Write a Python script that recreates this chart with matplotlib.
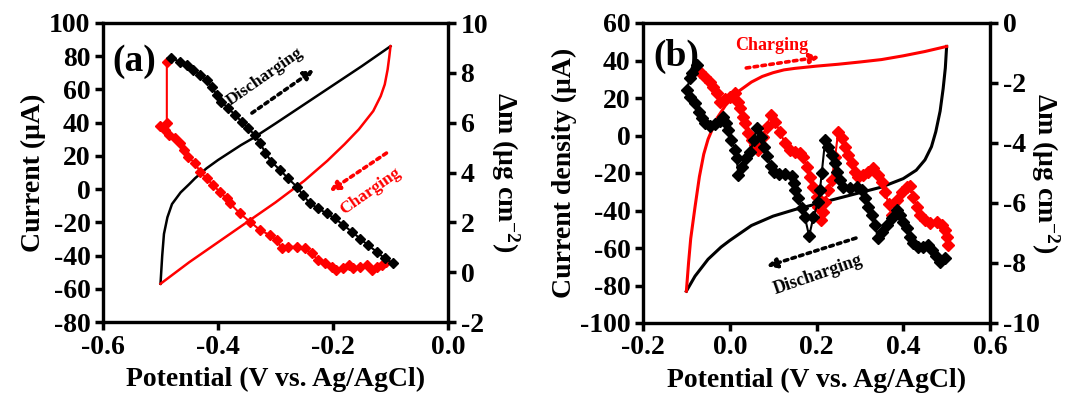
import numpy as np
import matplotlib
matplotlib.use('Agg')
from matplotlib import pyplot as plt
from matplotlib.ticker import MultipleLocator, FormatStrFormatter

plt.rcParams['font.family'] = ['Liberation Serif', 'DejaVu Serif']
plt.rcParams['font.weight'] = 'bold'
plt.rcParams['axes.unicode_minus'] = False
plt.rcParams['mathtext.fontset'] = 'custom'
plt.rcParams['mathtext.rm'] = 'Liberation Serif:bold'
plt.rcParams['mathtext.bf'] = 'Liberation Serif:bold'
plt.rcParams['mathtext.it'] = 'Liberation Serif:bold:italic'

# ---- panel (a) : CV (left axis) ----
a_cv_black_x = [-0.5, -0.497, -0.494, -0.488, -0.48, -0.465, -0.45, -0.44, -0.42, -0.40,
                -0.38, -0.36, -0.34, -0.30, -0.25, -0.20, -0.15, -0.10]
a_cv_black_i = [-57, -40, -27, -17, -9, -2, 3, 6.5, 12.5, 17.5,
                22, 26.5, 30.5, 39.5, 51, 62.5, 74, 86]
a_cv_red_x = [-0.10, -0.102, -0.105, -0.11, -0.117, -0.13, -0.155, -0.18, -0.21, -0.25,
              -0.30, -0.35, -0.40, -0.45, -0.5]
a_cv_red_i = [86, 80, 72, 63, 56, 47, 36, 27, 17, 5, -8, -20, -32, -44, -57]

# ---- panel (a) : mass change (right axis) ----
a_m_black_x = [-0.481, -0.466, -0.454, -0.443, -0.431, -0.420, -0.411, -0.402, -0.394, -0.382,
               -0.370, -0.359, -0.347, -0.336, -0.327, -0.318, -0.307, -0.292, -0.278, -0.263,
               -0.252, -0.240, -0.226, -0.211, -0.197, -0.182, -0.167, -0.153, -0.139, -0.124,
               -0.110, -0.095]
a_m_black = [8.58, 8.45, 8.31, 8.11, 7.91, 7.71, 7.44, 7.11, 6.84, 6.57,
             6.31, 6.04, 5.77, 5.5, 5.2, 4.8, 4.43, 4.1, 3.76, 3.43,
             3.09, 2.76, 2.56, 2.36, 2.16, 1.89, 1.62, 1.35, 1.08, 0.82,
             0.55, 0.35]
a_m_red_x = [-0.489, -0.489, -0.501, -0.492, -0.486, -0.475, -0.466, -0.460, -0.452, -0.440,
             -0.431, -0.420, -0.408, -0.397, -0.385, -0.379, -0.362, -0.344, -0.327, -0.310,
             -0.298, -0.289, -0.278, -0.263, -0.249, -0.237, -0.226, -0.214, -0.202, -0.194,
             -0.182, -0.173, -0.165, -0.153, -0.141, -0.133, -0.124, -0.115, -0.107]
a_m_red = [8.45, 5.97, 5.86, 5.7, 5.5, 5.37, 5.17, 4.9, 4.63, 4.37,
           4.03, 3.76, 3.49, 3.22, 2.96, 2.76, 2.36, 2.02, 1.69, 1.49,
           1.29, 0.95, 1.02, 1.02, 0.95, 0.75, 0.48, 0.35, 0.21, 0.08,
           0.15, 0.28, 0.15, 0.21, 0.28, 0.08, 0.21, 0.28, 0.41]

# ---- panel (b) : CV (left axis) ----
b_cv_red_x = [-0.1, -0.095, -0.09, -0.08, -0.07, -0.06, -0.05, -0.03, -0.01, 0.02, 0.05,
              0.075, 0.1, 0.125, 0.15, 0.2, 0.25, 0.3, 0.35, 0.4, 0.45, 0.5]
b_cv_red_i = [-83, -68, -55, -38, -22, -10, -2, 9, 16, 23.5, 28.5,
              31.5, 33.5, 35, 35.8, 37, 38, 39.2, 40.5, 42.5, 44.8, 47.5]
b_cv_black_x = [-0.1, -0.08, -0.05, -0.02, 0.0, 0.05, 0.1, 0.15, 0.2, 0.25, 0.3, 0.35,
                0.4, 0.43, 0.45, 0.465, 0.475, 0.485, 0.492, 0.497, 0.5]
b_cv_black_i = [-83, -75, -66, -59.5, -56, -48, -43, -39.5, -36.5, -33.5, -30.5, -27.5,
                -23, -18.5, -13, -6, 2, 13, 25, 36, 47.5]

# ---- panel (b) : mass change (right axis) ----
b_m_black_x = [-0.075, -0.088, -0.092, -0.099, -0.092, -0.080, -0.072, -0.065, -0.057, -0.046,
               -0.034, -0.022, -0.015, -0.009, -0.003, 0.004, 0.012, 0.016, 0.020, 0.028,
               0.037, 0.047, 0.056, 0.062, 0.071, 0.079, 0.087, 0.094, 0.101, 0.114,
               0.127, 0.143, 0.147, 0.150, 0.158, 0.166, 0.173, 0.183, 0.193, 0.204,
               0.208, 0.212, 0.220, 0.227, 0.235, 0.243, 0.248, 0.254, 0.262, 0.277,
               0.293, 0.304, 0.312, 0.319, 0.327, 0.335, 0.341, 0.350, 0.362, 0.373,
               0.385, 0.393, 0.400, 0.408, 0.416, 0.423, 0.435, 0.446, 0.458, 0.466,
               0.475, 0.485, 0.496]
b_m_black = [-1.40, -1.675, -1.84, -2.23, -2.46, -2.675, -2.96, -3.175, -3.34, -3.43,
             -3.37, -3.26, -3.14, -3.34, -3.57, -3.90, -4.23, -4.51, -5.07, -4.79,
             -4.51, -4.29, -3.90, -3.51, -3.79, -4.125, -4.44, -4.75, -4.97, -5.03,
             -5.03, -5.10, -5.34, -5.57, -5.84, -6.175, -6.46, -7.10, -6.46, -5.96,
             -5.57, -5.01, -3.90, -4.125, -4.40, -4.675, -4.96, -5.23, -5.475, -5.51,
             -5.475, -5.57, -5.84, -6.125, -6.40, -6.73, -7.16, -6.96, -6.73, -6.51,
             -6.23, -6.40, -6.625, -6.84, -7.125, -7.34, -7.46, -7.46, -7.40, -7.57,
             -7.77, -7.96, -7.84]
b_m_red_x = [-0.069, -0.057, -0.046, -0.038, -0.030, -0.022, -0.011, 0.001, 0.012, 0.020,
             0.024, 0.031, 0.035, 0.043, 0.051, 0.058, 0.066, 0.077, 0.085, 0.094,
             0.104, 0.116, 0.127, 0.139, 0.150, 0.162, 0.170, 0.177, 0.185, 0.193,
             0.200, 0.204, 0.210, 0.216, 0.220, 0.227, 0.235, 0.243, 0.250, 0.258,
             0.266, 0.273, 0.281, 0.289, 0.296, 0.308, 0.319, 0.331, 0.342, 0.350,
             0.358, 0.366, 0.373, 0.385, 0.396, 0.408, 0.416, 0.423, 0.431, 0.439,
             0.450, 0.462, 0.477, 0.489, 0.496, 0.502, 0.504]
b_m_red = [-1.625, -1.79, -1.96, -2.125, -2.34, -2.625, -2.54, -2.46, -2.34, -2.625,
           -2.84, -3.125, -3.34, -3.675, -3.90, -4.07, -4.23, -3.79, -3.46, -3.06,
           -3.29, -3.625, -4.01, -4.23, -4.29, -4.34, -4.46, -4.79, -5.125, -5.46,
           -5.79, -6.125, -6.57, -6.29, -5.96, -5.57, -5.23, -4.46, -3.625, -3.84,
           -4.125, -4.40, -4.675, -4.96, -5.125, -5.07, -4.96, -4.84, -5.06, -5.31,
           -5.625, -6.03, -6.40, -5.90, -5.625, -5.475, -5.43, -5.79, -6.125, -6.40,
           -6.57, -6.675, -6.625, -6.73, -6.90, -7.125, -7.40]

RED = '#ff0000'
FS = 20


def style(ax, twin, rpad):
    for sp in ax.spines.values():
        sp.set_linewidth(2.3)
    ax.tick_params(direction='out', length=6, width=2.5, labelsize=FS, pad=3)
    twin.tick_params(direction='out', length=6, width=2.5, labelsize=FS, pad=3)
    for sp in twin.spines.values():
        sp.set_linewidth(2.3)
    ax.xaxis.set_major_formatter(FormatStrFormatter('%.1f'))
    ax.set_xlabel('Potential (V vs. Ag/AgCl)', fontsize=FS, fontweight='bold', labelpad=5)
    twin.set_ylabel('Δm (μg cm$^{-2}$)', fontsize=FS, fontweight='bold',
                    rotation=270, labelpad=rpad)


def darrow(ax, xy_from, xy_to, color):
    ax.annotate('', xy=xy_to, xytext=xy_from,
                arrowprops=dict(arrowstyle='-|>', color=color, lw=2.6,
                                linestyle=(0, (1, 1.2)), mutation_scale=14,
                                shrinkA=0, shrinkB=0))


fig = plt.figure(figsize=(10.69, 4.03), dpi=100)

# ================= (a) =================
ax1 = fig.add_axes([103 / 1069, 81 / 403, 345 / 1069, 299 / 403])
ax1t = ax1.twinx()
ax1.plot(a_cv_black_x, a_cv_black_i, color='black', lw=1.8)
ax1.plot(a_cv_red_x, a_cv_red_i, color=RED, lw=1.8)
ax1t.plot(a_m_red_x, a_m_red, color=RED, lw=1.5, marker='D', ms=5.5, mec=RED, mfc=RED)
ax1t.plot(a_m_black_x, a_m_black, color='black', lw=1.5, marker='D', ms=5.5)
ax1.set_xlim(-0.6, 0.0)
ax1.set_ylim(-80, 100)
ax1t.set_ylim(-2, 10)
ax1.xaxis.set_major_locator(MultipleLocator(0.2))
ax1.yaxis.set_major_locator(MultipleLocator(20))
ax1t.yaxis.set_major_locator(MultipleLocator(2))
style(ax1, ax1t, 24)
ax1.set_ylabel('Current (μA)', fontsize=FS, fontweight='bold', labelpad=2)
ax1.text(0.09, 0.87, '(a)', transform=ax1.transAxes, fontsize=27, fontweight='bold',
         ha='center', va='center')
ax1.text(-0.319, 67.5, 'Discharging', fontsize=12.5, fontweight='bold', rotation=35,
         ha='center', va='center')
darrow(ax1, (-0.341, 45.8), (-0.233, 71.9), 'black')
ax1.text(-0.135, -1.3, 'Charging', fontsize=12.5, fontweight='bold', rotation=35,
         ha='center', va='center', color=RED)
darrow(ax1, (-0.107, 21.7), (-0.206, -1.3), RED)

# ================= (b) =================
ax2 = fig.add_axes([643 / 1069, 80 / 403, 347 / 1069, 300 / 403])
ax2t = ax2.twinx()
ax2.plot(b_cv_black_x, b_cv_black_i, color='black', lw=2.2)
ax2.plot(b_cv_red_x, b_cv_red_i, color=RED, lw=2.2)
ax2t.plot(b_m_red_x, b_m_red, color=RED, lw=1.5, marker='D', ms=6, mec=RED, mfc=RED)
ax2t.plot(b_m_black_x, b_m_black, color='black', lw=1.5, marker='D', ms=6)
ax2.set_xlim(-0.2, 0.6)
ax2.set_ylim(-100, 60)
ax2t.set_ylim(-10, 0)
ax2.xaxis.set_major_locator(MultipleLocator(0.2))
ax2.yaxis.set_major_locator(MultipleLocator(20))
ax2t.yaxis.set_major_locator(MultipleLocator(2))
style(ax2, ax2t, 16)
ax2.set_ylabel('Current density (μA)', fontsize=FS, fontweight='bold', labelpad=2)
ax2.text(0.095, 0.887, '(b)', transform=ax2.transAxes, fontsize=27, fontweight='bold',
         ha='center', va='center')
ax2.text(0.097, 48, 'Charging', fontsize=13, fontweight='bold', color=RED,
         ha='center', va='center')
darrow(ax2, (0.038, 36), (0.208, 41.9), RED)
ax2.text(0.204, -74.2, 'Discharging', fontsize=13, fontweight='bold', rotation=19,
         ha='center', va='center')
darrow(ax2, (0.291, -54.7), (0.085, -69.8), 'black')

fig.savefig('out.png', dpi=100)
